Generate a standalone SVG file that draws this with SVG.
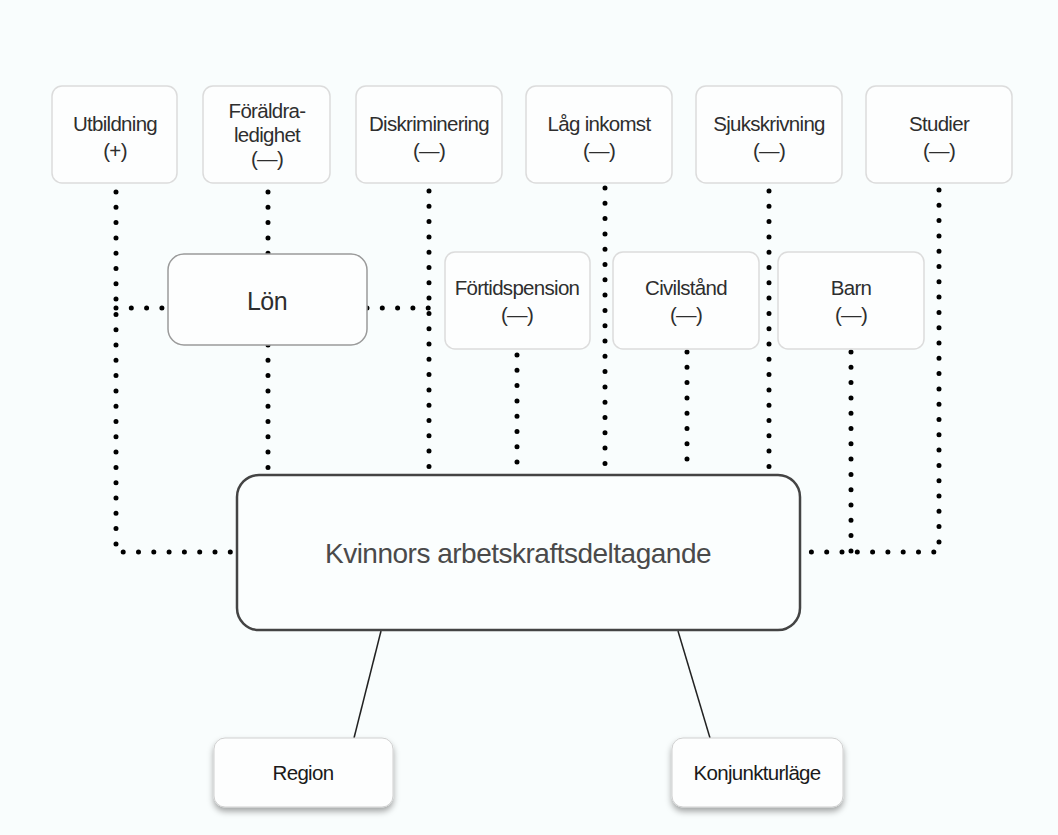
<svg xmlns="http://www.w3.org/2000/svg" width="1058" height="835" viewBox="0 0 1058 835">
<style>
.bg{fill:#f9fdfd}
.top{fill:#fdfefe;stroke:#dcdcdc;stroke-width:1.5}
.lon{fill:#fdfefe;stroke:#9a9a9a;stroke-width:1.5}
.main{fill:#fbfefe;stroke:#444;stroke-width:2.5}
.bot{fill:#fdfefe;stroke:#d0d0d0;stroke-width:1}
.t{font-family:"Liberation Sans",Arial,sans-serif;font-size:20.5px;letter-spacing:-0.7px;fill:#2e2e2e;text-anchor:middle}
.tl{font-size:25px;letter-spacing:-0.5px}
.tm{font-family:"Liberation Sans",Arial,sans-serif;font-size:28px;letter-spacing:-0.5px;fill:#4a4a4a;text-anchor:middle}
.tb{fill:#1a1a1a}
.dot{fill:none;stroke:#000;stroke-width:5;stroke-linecap:round;stroke-dasharray:0 15.3}
.solid{fill:none;stroke:#222;stroke-width:1.5}
</style>
<defs>
<filter id="sh" x="-20%" y="-20%" width="140%" height="160%">
<feDropShadow dx="0" dy="4" stdDeviation="3" flood-color="#000" flood-opacity="0.35"/>
</filter>
</defs>
<rect class="bg" x="0" y="0" width="1058" height="835"/>
<g id="connectors">
<path class="dot" d="M116,192 V552 H237"/>
<path class="dot" d="M116,308 H168"/>
<path class="dot" d="M268,192 V254"/>
<path class="dot" d="M268,345 V468"/>
<path class="dot" d="M367,308 H429"/>
<path class="dot" d="M429,191 V468"/>
<path class="dot" d="M517,355 V468"/>
<path class="dot" d="M605,188 V468"/>
<path class="dot" d="M687,352 V468"/>
<path class="dot" d="M769,191 V468"/>
<path class="dot" d="M851,352 V552"/>
<path class="dot" d="M939,190 V552 H800"/>
<path class="solid" d="M381,631 L354,738"/>
<path class="solid" d="M678,631 L710,738"/>
</g>
<g id="utbildning"><rect class="top" x="52" y="86" width="125" height="97" rx="10"/><text class="t" x="115" y="131">Utbildning</text><text class="t" x="115" y="158">(+)</text></g>
<g id="foraldraledighet"><rect class="top" x="203" y="86" width="127" height="97" rx="10"/><text class="t" x="267" y="118">Föräldra-</text><text class="t" x="267" y="142">ledighet</text><text class="t" x="267" y="166">(—)</text></g>
<g id="diskriminering"><rect class="top" x="356" y="86" width="146" height="97" rx="10"/><text class="t" x="429" y="131">Diskriminering</text><text class="t" x="429" y="158">(—)</text></g>
<g id="lag-inkomst"><rect class="top" x="526" y="86" width="146" height="97" rx="10"/><text class="t" x="599" y="131">Låg inkomst</text><text class="t" x="599" y="158">(—)</text></g>
<g id="sjukskrivning"><rect class="top" x="696" y="86" width="146" height="97" rx="10"/><text class="t" x="769" y="131">Sjukskrivning</text><text class="t" x="769" y="158">(—)</text></g>
<g id="studier"><rect class="top" x="866" y="86" width="146" height="97" rx="10"/><text class="t" x="939" y="131">Studier</text><text class="t" x="939" y="158">(—)</text></g>
<g id="lon"><rect class="lon" x="168" y="254" width="199" height="91" rx="16"/><text class="t tl" x="267" y="310">Lön</text></g>
<g id="fortidspension"><rect class="top" x="445" y="252" width="145" height="97" rx="10"/><text class="t" x="517" y="295">Förtidspension</text><text class="t" x="517" y="322">(—)</text></g>
<g id="civilstand"><rect class="top" x="613" y="252" width="146" height="97" rx="10"/><text class="t" x="686" y="295">Civilstånd</text><text class="t" x="686" y="322">(—)</text></g>
<g id="barn"><rect class="top" x="778" y="252" width="146" height="97" rx="10"/><text class="t" x="851" y="295">Barn</text><text class="t" x="851" y="322">(—)</text></g>
<g id="kvinnors"><rect class="main" x="237" y="475" width="563" height="155" rx="22"/><text class="tm" x="518" y="563">Kvinnors arbetskraftsdeltagande</text></g>
<g id="region"><rect class="bot" x="214" y="738" width="179" height="69" rx="11" filter="url(#sh)"/><text class="t tb" x="303" y="780">Region</text></g>
<g id="konjunkturlage"><rect class="bot" x="672" y="738" width="171" height="69" rx="11" filter="url(#sh)"/><text class="t tb" x="757" y="780">Konjunkturläge</text></g>
</svg>
